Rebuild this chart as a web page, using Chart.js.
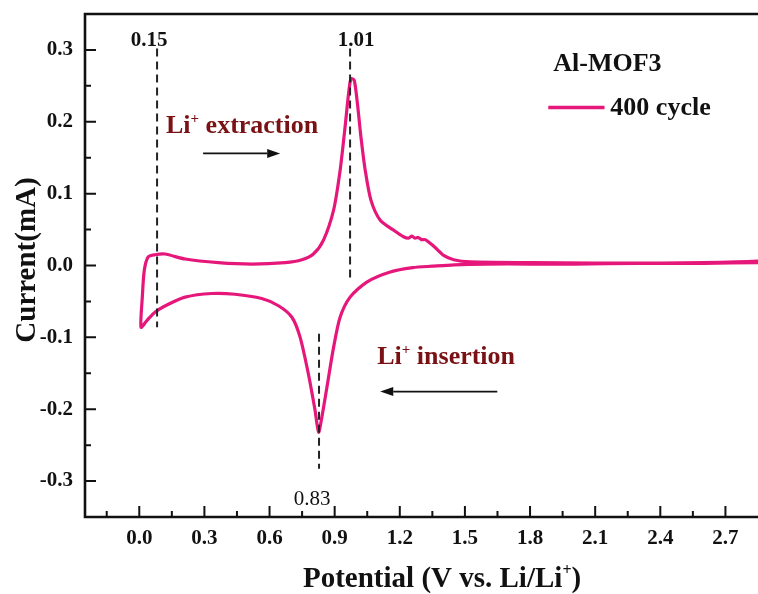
<!DOCTYPE html>
<html>
<head>
<meta charset="utf-8">
<script src="https://cdn.jsdelivr.net/npm/chart.js@4.4.1/dist/chart.umd.min.js"></script>
<style>
html,body{margin:0;padding:0;background:#fff;}
canvas{display:block;}
</style>
</head>
<body>
<canvas id="c" width="758" height="594"></canvas>
<script>
// ---- data ----
// cathodic sweep (high -> low potential)
const potentialCathodic = [2.85, 2.6, 2.3, 2.0, 1.8, 1.6, 1.45, 1.35, 1.26, 1.156, 1.048, 0.971, 0.925, 0.895, 0.864, 0.841, 0.826, 0.810, 0.779, 0.741, 0.703, 0.641, 0.564, 0.441, 0.334, 0.211, 0.134, 0.072, 0.034, 0.008];
const currentCathodic   = [0.004, 0.003, 0.003, 0.002, 0.002, 0.002, 0.001, -0.001, -0.003, -0.009, -0.023, -0.044, -0.072, -0.114, -0.170, -0.211, -0.232, -0.202, -0.151, -0.100, -0.072, -0.056, -0.046, -0.040, -0.039, -0.044, -0.054, -0.065, -0.077, -0.086];
// anodic sweep (low -> high potential)
const potentialAnodic = [0.008, 0.014, 0.023, 0.041, 0.072, 0.118, 0.211, 0.364, 0.518, 0.672, 0.749, 0.802, 0.848, 0.895, 0.925, 0.948, 0.964, 0.975, 0.990, 1.005, 1.021, 1.041, 1.067, 1.110, 1.172, 1.217, 1.240, 1.255, 1.270, 1.285, 1.300, 1.317, 1.340, 1.363, 1.402, 1.448, 1.525, 1.8, 2.1, 2.4, 2.6, 2.75, 2.85];
const currentAnodic   = [-0.086, -0.044, -0.007, 0.012, 0.015, 0.016, 0.009, 0.004, 0.002, 0.004, 0.008, 0.016, 0.035, 0.077, 0.132, 0.193, 0.239, 0.260, 0.258, 0.225, 0.179, 0.132, 0.091, 0.063, 0.049, 0.040, 0.038, 0.041, 0.038, 0.039, 0.036, 0.036, 0.031, 0.025, 0.014, 0.008, 0.005, 0.004, 0.0035, 0.0035, 0.004, 0.005, 0.006];

// peak markers
const peakLabels = ['0.15', '1.01', '0.83'];
const peakX      = [0.082, 0.971, 0.828];
const peakYFrom  = [0.302, 0.302, -0.095];
const peakYTo    = [-0.086, -0.018, -0.283];

// axis ticks
const xMajorTicks = [0.0, 0.3, 0.6, 0.9, 1.2, 1.5, 1.8, 2.1, 2.4, 2.7];
const xMinorTicks = [-0.15, 0.15, 0.45, 0.75, 1.05, 1.35, 1.65, 1.95, 2.25, 2.55];
const yMajorTicks = [-0.3, -0.2, -0.1, 0.0, 0.1, 0.2, 0.3];
const yMinorTicks = [-0.25, -0.15, -0.05, 0.05, 0.15, 0.25];

const seriesName = '400 cycle';
const sampleName = 'Al-MOF3';
const xTitle = 'Potential (V vs. Li/Li';
const yTitle = 'Current(mA)';

// ---- build ----
const PINK = '#E6177A';
const DARKRED = '#7A1114';
const SERIF = '"Liberation Serif", "Times New Roman", serif';

const loop = [];
potentialCathodic.forEach((v, i) => loop.push({x: v, y: currentCathodic[i]}));
potentialAnodic.forEach((v, i) => { if (i > 0) loop.push({x: v, y: currentAnodic[i]}); });

const datasets = [];
peakX.forEach((px, i) => {
  datasets.push({
    label: 'peak ' + peakLabels[i],
    data: [{x: px, y: peakYFrom[i]}, {x: px, y: peakYTo[i]}],
    showLine: true, borderColor: '#222', borderWidth: 2, borderDash: [8, 5],
    pointRadius: 0, order: 0
  });
});
datasets.push({
  label: seriesName, data: loop, showLine: true, borderColor: PINK,
  borderWidth: 3.2, pointRadius: 0, tension: 0.25, order: 1,
  borderJoinStyle: 'round', borderCapStyle: 'round'
});

function rich(ctx, parts, x, y, align) {
  let w = 0;
  parts.forEach(p => { ctx.font = p.font; w += ctx.measureText(p.t).width; });
  let cx = align === 'center' ? x - w / 2 : x;
  ctx.textAlign = 'left';
  parts.forEach(p => {
    ctx.font = p.font;
    ctx.fillText(p.t, cx, y + (p.dy || 0));
    cx += ctx.measureText(p.t).width;
  });
}

function arrow(ctx, x1, y1, x2, y2) {
  const dir = Math.sign(x2 - x1);
  const hl = 13, hw = 4.5;
  ctx.beginPath();
  ctx.moveTo(x1, y1); ctx.lineTo(x2 - dir * hl, y2);
  ctx.lineWidth = 1.6; ctx.stroke();
  ctx.beginPath();
  ctx.moveTo(x2, y2);
  ctx.lineTo(x2 - dir * hl, y2 - hw);
  ctx.lineTo(x2 - dir * hl, y2 + hw);
  ctx.closePath(); ctx.fill();
}

const decor = {
  id: 'decor',
  afterDraw(chart) {
    const {ctx, chartArea: a, scales: {x, y}} = chart;
    const X = v => x.getPixelForValue(v), Y = v => y.getPixelForValue(v);
    ctx.save();
    ctx.strokeStyle = '#111'; ctx.fillStyle = '#111';
    ctx.lineWidth = 2;
    ctx.beginPath();
    xMajorTicks.forEach(v => { ctx.moveTo(X(v), a.bottom); ctx.lineTo(X(v), a.bottom - 11); });
    xMinorTicks.forEach(v => { ctx.moveTo(X(v), a.bottom); ctx.lineTo(X(v), a.bottom - 6); });
    yMajorTicks.forEach(v => { ctx.moveTo(a.left, Y(v)); ctx.lineTo(a.left + 11, Y(v)); });
    yMinorTicks.forEach(v => { ctx.moveTo(a.left, Y(v)); ctx.lineTo(a.left + 6, Y(v)); });
    ctx.stroke();
    ctx.lineWidth = 2.6;
    ctx.beginPath();
    ctx.moveTo(a.right + 5, a.top); ctx.lineTo(a.left, a.top);
    ctx.lineTo(a.left, a.bottom); ctx.lineTo(a.right + 5, a.bottom);
    ctx.stroke();

    ctx.textBaseline = 'alphabetic';
    ctx.fillStyle = '#111';
    rich(ctx, [{t: peakLabels[0], font: 'bold 21px ' + SERIF}], X(0.045), Y(0.306), 'center');
    rich(ctx, [{t: peakLabels[1], font: 'bold 21px ' + SERIF}], X(0.999), Y(0.306), 'center');
    rich(ctx, [{t: peakLabels[2], font: '21px ' + SERIF}], X(0.796), Y(-0.333), 'center');

    ctx.fillStyle = DARKRED;
    rich(ctx, [
      {t: 'Li', font: 'bold 26px ' + SERIF},
      {t: '+', font: 'bold 15px ' + SERIF, dy: -10},
      {t: ' extraction', font: 'bold 26px ' + SERIF}
    ], X(0.123), Y(0.184), 'left');
    rich(ctx, [
      {t: 'Li', font: 'bold 26px ' + SERIF},
      {t: '+', font: 'bold 15px ' + SERIF, dy: -10},
      {t: ' insertion', font: 'bold 26px ' + SERIF}
    ], X(1.096), Y(-0.1365), 'left');

    ctx.fillStyle = '#111'; ctx.strokeStyle = '#111';
    arrow(ctx, X(0.294), Y(0.156), X(0.649), Y(0.156));
    arrow(ctx, X(1.649), Y(-0.1755), X(1.110), Y(-0.1755));

    rich(ctx, [{t: sampleName, font: 'bold 26px ' + SERIF}], X(1.907), Y(0.270), 'left');
    ctx.strokeStyle = PINK; ctx.lineWidth = 3.5;
    ctx.beginPath(); ctx.moveTo(X(1.884), Y(0.220)); ctx.lineTo(X(2.143), Y(0.220)); ctx.stroke();
    ctx.fillStyle = '#111';
    rich(ctx, [{t: seriesName, font: 'bold 26px ' + SERIF}], X(2.17), Y(0.209), 'left');

    rich(ctx, [
      {t: xTitle, font: 'bold 29px ' + SERIF},
      {t: '+', font: 'bold 16px ' + SERIF, dy: -12},
      {t: ')', font: 'bold 29px ' + SERIF}
    ], 303, 587, 'left');
    ctx.save();
    ctx.translate(35, 260);
    ctx.rotate(-Math.PI / 2);
    rich(ctx, [{t: yTitle, font: 'bold 29px ' + SERIF}], 0, 0, 'center');
    ctx.restore();
    ctx.restore();
  }
};

new Chart(document.getElementById('c'), {
  type: 'scatter',
  data: {datasets},
  plugins: [decor],
  options: {
    responsive: false, animation: false, devicePixelRatio: 1,
    layout: {padding: {left: 0, right: 0, top: 14, bottom: 0}},
    plugins: {legend: {display: false}, tooltip: {enabled: false}},
    scales: {
      x: {
        type: 'linear', min: -0.25, max: 2.85,
        grid: {display: false, drawTicks: false}, border: {display: false},
        afterFit: s => { s.height = 77; s.paddingLeft = 0; s.paddingRight = 0; },
        afterBuildTicks: s => { s.ticks = xMajorTicks.map(v => ({value: v})); },
        ticks: {
          padding: 9, color: '#111', maxRotation: 0, autoSkip: false,
          font: {family: SERIF, size: 21, weight: 'bold'},
          callback: v => Number(v).toFixed(1)
        }
      },
      y: {
        type: 'linear', min: -0.35, max: 0.35,
        grid: {display: false, drawTicks: false}, border: {display: false},
        afterFit: s => { s.width = 85; s.paddingTop = 0; s.paddingBottom = 0; },
        afterBuildTicks: s => { s.ticks = yMajorTicks.map(v => ({value: v})); },
        ticks: {
          padding: 12, color: '#111', autoSkip: false,
          font: {family: SERIF, size: 21, weight: 'bold'},
          callback: v => Number(v).toFixed(1)
        }
      }
    }
  }
});
</script>
</body>
</html>
